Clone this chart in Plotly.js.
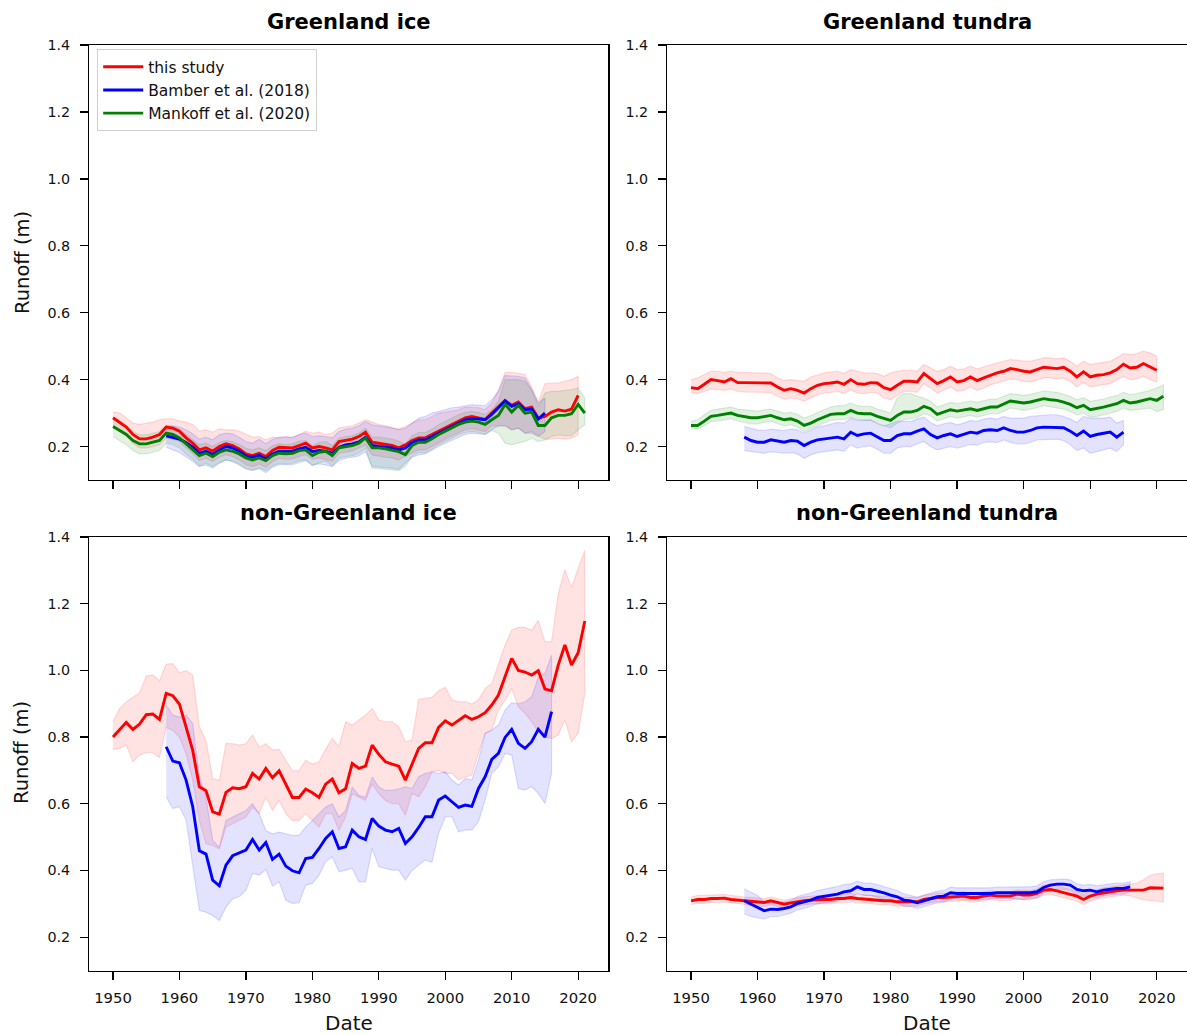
<!DOCTYPE html>
<html>
<head>
<meta charset="utf-8">
<script src="https://cdn.plot.ly/plotly-3.0.1.min.js"></script>
<style>html,body{margin:0;padding:0;background:#fff;}#chart{width:1187px;height:1035px;}</style>
</head>
<body>
<div id="chart"></div>
<script>
// ---------- years ----------
function yearRange(a, b) { var r = []; for (var y = a; y <= b; y++) r.push(y); return r; }
var yrsStudyGr = yearRange(1950, 2020);
var yrsStudyNonGr = yearRange(1950, 2021);
var yrsMankoff = yearRange(1950, 2021);
var yrsBamberGr = yearRange(1958, 2015);
var yrsBamberNonGr = yearRange(1958, 2016);

// ---------- Greenland ice ----------
var giStudy = [0.286,0.273,0.258,0.236,0.223,0.223,0.228,0.236,0.258,0.255,
0.246,0.226,0.210,0.190,0.196,0.186,0.200,0.208,0.203,0.193,
0.178,0.173,0.180,0.170,0.188,0.198,0.196,0.196,0.203,0.210,
0.196,0.200,0.196,0.190,0.215,0.218,0.222,0.230,0.243,0.213,
0.210,0.206,0.203,0.196,0.205,0.218,0.226,0.226,0.236,0.248,
0.258,0.268,0.278,0.286,0.290,0.286,0.281,0.300,0.318,0.338,
0.323,0.333,0.313,0.318,0.285,0.290,0.303,0.310,0.306,0.312,0.353];
var giStudyHi = [0.303,0.300,0.286,0.270,0.266,0.270,0.273,0.280,0.283,0.283,
0.276,0.273,0.266,0.246,0.250,0.243,0.253,0.250,0.250,0.246,
0.236,0.228,0.230,0.220,0.228,0.226,0.230,0.226,0.236,0.246,
0.240,0.243,0.236,0.240,0.256,0.260,0.262,0.270,0.280,0.273,
0.266,0.263,0.256,0.253,0.260,0.270,0.280,0.280,0.290,0.300,
0.303,0.306,0.310,0.318,0.318,0.316,0.310,0.330,0.368,0.422,
0.422,0.418,0.415,0.378,0.333,0.388,0.390,0.390,0.395,0.400,0.410];
var giStudyLo = [0.262,0.250,0.232,0.210,0.196,0.196,0.200,0.205,0.225,0.222,
0.215,0.196,0.180,0.158,0.165,0.155,0.168,0.176,0.170,0.160,
0.146,0.140,0.148,0.138,0.155,0.165,0.162,0.163,0.170,0.176,
0.162,0.166,0.162,0.156,0.180,0.183,0.187,0.195,0.205,0.175,
0.172,0.168,0.166,0.160,0.172,0.182,0.190,0.190,0.200,0.212,
0.222,0.232,0.242,0.250,0.254,0.250,0.245,0.262,0.262,0.262,
0.250,0.255,0.240,0.245,0.232,0.222,0.222,0.225,0.222,0.225,0.235];
var giBamber = [0.232,0.226,0.222,0.212,0.198,0.180,0.186,0.176,0.190,0.200,
0.196,0.186,0.172,0.168,0.174,0.163,0.178,0.186,0.186,0.186,
0.193,0.198,0.185,0.188,0.186,0.180,0.198,0.205,0.208,0.214,
0.228,0.203,0.200,0.198,0.196,0.190,0.196,0.212,0.220,0.220,
0.230,0.242,0.252,0.262,0.272,0.280,0.284,0.282,0.280,0.296,
0.316,0.336,0.320,0.328,0.310,0.312,0.282,0.300];
var giBamberHi = [0.262,0.262,0.258,0.250,0.238,0.222,0.228,0.220,0.235,0.240,
0.238,0.228,0.215,0.210,0.222,0.208,0.222,0.228,0.228,0.228,
0.236,0.240,0.230,0.232,0.230,0.226,0.245,0.252,0.255,0.262,
0.275,0.265,0.262,0.260,0.256,0.250,0.255,0.270,0.285,0.290,
0.300,0.305,0.310,0.316,0.318,0.322,0.325,0.324,0.322,0.340,
0.365,0.412,0.410,0.410,0.405,0.370,0.330,0.345];
var giBamberLo = [0.198,0.190,0.182,0.170,0.156,0.140,0.145,0.136,0.150,0.160,
0.155,0.145,0.132,0.128,0.134,0.122,0.138,0.146,0.146,0.146,
0.152,0.158,0.145,0.148,0.145,0.140,0.158,0.165,0.168,0.172,
0.185,0.140,0.138,0.136,0.135,0.132,0.150,0.168,0.175,0.178,
0.188,0.200,0.210,0.220,0.228,0.236,0.240,0.238,0.236,0.250,
0.262,0.262,0.250,0.255,0.240,0.240,0.230,0.245];
var giMankoff = [0.260,0.248,0.236,0.218,0.208,0.208,0.213,0.218,0.240,0.236,
0.226,0.208,0.193,0.173,0.180,0.170,0.183,0.190,0.186,0.178,
0.166,0.160,0.166,0.158,0.173,0.180,0.178,0.180,0.188,0.190,
0.173,0.183,0.186,0.173,0.196,0.200,0.203,0.210,0.226,0.196,
0.196,0.193,0.190,0.185,0.176,0.203,0.213,0.213,0.223,0.236,
0.246,0.256,0.266,0.273,0.276,0.273,0.266,0.280,0.293,0.326,
0.303,0.323,0.300,0.303,0.263,0.263,0.286,0.293,0.293,0.298,
0.326,0.300];
var giMankoffHi = [0.285,0.275,0.262,0.245,0.235,0.235,0.240,0.245,0.262,0.260,
0.252,0.236,0.222,0.205,0.210,0.200,0.212,0.218,0.214,0.206,
0.195,0.190,0.196,0.188,0.202,0.208,0.206,0.208,0.216,0.218,
0.202,0.212,0.215,0.203,0.225,0.230,0.232,0.240,0.255,0.228,
0.228,0.225,0.222,0.216,0.206,0.232,0.242,0.242,0.252,0.265,
0.275,0.285,0.295,0.302,0.305,0.302,0.296,0.310,0.335,0.400,
0.400,0.400,0.395,0.370,0.320,0.360,0.365,0.365,0.368,0.370,
0.375,0.345];
var giMankoffLo = [0.230,0.218,0.205,0.188,0.178,0.178,0.183,0.188,0.210,0.206,
0.196,0.178,0.163,0.142,0.150,0.140,0.152,0.160,0.156,0.148,
0.135,0.130,0.136,0.128,0.142,0.150,0.148,0.150,0.158,0.160,
0.142,0.152,0.156,0.142,0.165,0.170,0.172,0.180,0.195,0.135,
0.134,0.132,0.130,0.128,0.140,0.170,0.182,0.182,0.192,0.205,
0.215,0.225,0.235,0.242,0.245,0.242,0.236,0.248,0.240,0.210,
0.205,0.210,0.215,0.225,0.215,0.220,0.230,0.235,0.232,0.232,
0.250,0.265];

// ---------- Greenland tundra ----------
var gtStudy = [0.376,0.373,0.386,0.400,0.397,0.393,0.403,0.391,0.391,0.391,
0.390,0.390,0.390,0.378,0.368,0.373,0.368,0.360,0.373,0.383,
0.388,0.390,0.393,0.386,0.400,0.388,0.386,0.391,0.390,0.376,
0.370,0.383,0.395,0.395,0.393,0.418,0.403,0.388,0.397,0.408,
0.393,0.397,0.408,0.397,0.405,0.413,0.420,0.425,0.433,0.430,
0.425,0.423,0.430,0.437,0.435,0.433,0.437,0.425,0.408,0.423,
0.408,0.413,0.415,0.420,0.430,0.446,0.435,0.437,0.448,0.437,0.428];
var gtStudyHi = [0.400,0.405,0.415,0.425,0.425,0.422,0.425,0.422,0.422,0.420,
0.420,0.420,0.418,0.405,0.398,0.400,0.398,0.395,0.408,0.415,
0.420,0.423,0.425,0.418,0.430,0.425,0.420,0.420,0.418,0.410,
0.420,0.425,0.428,0.428,0.425,0.445,0.435,0.425,0.430,0.440,
0.430,0.432,0.440,0.432,0.438,0.445,0.450,0.455,0.460,0.458,
0.455,0.455,0.460,0.465,0.465,0.462,0.465,0.455,0.440,0.455,
0.445,0.448,0.450,0.455,0.465,0.478,0.475,0.478,0.485,0.480,0.470];
var gtStudyLo = [0.360,0.358,0.365,0.372,0.370,0.368,0.372,0.365,0.363,0.362,
0.362,0.362,0.360,0.350,0.342,0.345,0.342,0.335,0.345,0.355,
0.360,0.362,0.365,0.358,0.370,0.360,0.358,0.362,0.360,0.345,
0.340,0.352,0.365,0.365,0.362,0.388,0.375,0.360,0.368,0.378,
0.365,0.368,0.378,0.368,0.375,0.385,0.390,0.395,0.402,0.400,
0.395,0.393,0.400,0.405,0.405,0.402,0.405,0.395,0.378,0.392,
0.378,0.382,0.385,0.388,0.398,0.410,0.400,0.402,0.410,0.400,0.393];
var gtBamber = [0.228,0.218,0.213,0.213,0.220,0.216,0.213,0.218,0.216,0.203,
0.213,0.220,0.223,0.226,0.228,0.223,0.243,0.233,0.238,0.240,
0.230,0.218,0.218,0.233,0.238,0.238,0.246,0.253,0.236,0.226,
0.233,0.238,0.230,0.236,0.243,0.240,0.248,0.250,0.248,0.256,
0.248,0.243,0.243,0.248,0.256,0.258,0.258,0.258,0.256,0.246,
0.233,0.246,0.230,0.236,0.240,0.243,0.228,0.243];
var gtBamberHi = [0.260,0.255,0.250,0.248,0.252,0.250,0.248,0.252,0.250,0.240,
0.250,0.258,0.262,0.268,0.272,0.270,0.285,0.278,0.280,0.280,
0.268,0.262,0.268,0.275,0.275,0.275,0.282,0.288,0.272,0.262,
0.268,0.272,0.265,0.270,0.278,0.275,0.282,0.285,0.282,0.290,
0.285,0.285,0.285,0.290,0.292,0.295,0.295,0.295,0.290,0.282,
0.272,0.290,0.285,0.285,0.285,0.288,0.270,0.278];
var gtBamberLo = [0.188,0.185,0.182,0.180,0.185,0.182,0.180,0.182,0.178,0.165,
0.175,0.182,0.185,0.188,0.190,0.186,0.205,0.195,0.200,0.202,
0.192,0.180,0.180,0.196,0.200,0.200,0.208,0.215,0.200,0.190,
0.196,0.200,0.195,0.200,0.206,0.204,0.212,0.214,0.212,0.220,
0.212,0.208,0.208,0.212,0.220,0.222,0.222,0.222,0.218,0.205,
0.188,0.196,0.180,0.185,0.190,0.195,0.185,0.205];
var gtMankoff = [0.263,0.263,0.276,0.290,0.293,0.296,0.300,0.293,0.290,0.286,
0.286,0.290,0.293,0.286,0.280,0.283,0.276,0.263,0.270,0.280,
0.288,0.296,0.298,0.298,0.308,0.300,0.298,0.298,0.290,0.283,
0.278,0.293,0.303,0.303,0.308,0.320,0.313,0.296,0.303,0.310,
0.306,0.310,0.313,0.308,0.313,0.318,0.318,0.326,0.336,0.333,
0.330,0.333,0.338,0.343,0.340,0.338,0.333,0.326,0.316,0.323,
0.310,0.313,0.318,0.323,0.328,0.338,0.330,0.333,0.338,0.343,
0.338,0.350];
var gtMankoffHi = [0.275,0.280,0.295,0.308,0.312,0.314,0.318,0.312,0.310,0.306,
0.306,0.310,0.312,0.306,0.300,0.302,0.296,0.285,0.292,0.302,
0.310,0.318,0.322,0.322,0.330,0.322,0.320,0.320,0.312,0.305,
0.300,0.345,0.358,0.358,0.350,0.345,0.335,0.318,0.325,0.332,
0.328,0.332,0.336,0.332,0.336,0.342,0.342,0.350,0.358,0.356,
0.353,0.356,0.362,0.366,0.364,0.362,0.356,0.350,0.340,0.346,
0.335,0.338,0.342,0.348,0.352,0.362,0.355,0.358,0.362,0.368,
0.375,0.385];
var gtMankoffLo = [0.255,0.252,0.262,0.275,0.276,0.279,0.283,0.276,0.272,0.268,
0.268,0.272,0.275,0.268,0.262,0.265,0.258,0.245,0.252,0.262,
0.270,0.278,0.280,0.280,0.288,0.280,0.278,0.278,0.270,0.262,
0.256,0.270,0.280,0.282,0.286,0.298,0.292,0.276,0.282,0.290,
0.285,0.290,0.293,0.288,0.292,0.298,0.298,0.305,0.315,0.312,
0.308,0.312,0.316,0.322,0.318,0.316,0.312,0.305,0.295,0.300,
0.288,0.290,0.295,0.300,0.305,0.315,0.308,0.310,0.312,0.315,
0.305,0.310];

// ---------- non-Greenland ice ----------
var niStudy = [0.800,0.823,0.844,0.823,0.839,0.867,0.869,0.853,0.931,0.924,
0.899,0.830,0.760,0.651,0.639,0.576,0.569,0.634,0.648,0.645,
0.651,0.691,0.674,0.706,0.678,0.699,0.659,0.619,0.619,0.644,
0.633,0.619,0.659,0.674,0.633,0.645,0.721,0.706,0.713,0.776,
0.748,0.726,0.719,0.713,0.671,0.719,0.766,0.783,0.783,0.829,
0.849,0.836,0.851,0.864,0.853,0.861,0.873,0.896,0.926,0.980,
1.036,1.000,0.995,0.986,0.999,0.944,0.939,1.016,1.076,1.016,
1.053,1.148];
var niStudyHi = [0.847,0.886,0.906,0.920,0.933,0.983,0.986,0.969,1.019,1.020,
0.993,0.999,0.986,0.830,0.790,0.676,0.670,0.781,0.780,0.776,
0.780,0.806,0.769,0.780,0.761,0.763,0.731,0.699,0.699,0.731,
0.719,0.726,0.764,0.796,0.771,0.846,0.836,0.851,0.866,0.886,
0.851,0.846,0.846,0.831,0.786,0.791,0.913,0.916,0.919,0.939,
0.949,0.912,0.906,0.906,0.899,0.912,0.946,0.961,1.020,1.076,
1.121,1.129,1.129,1.120,1.150,1.086,1.086,1.230,1.302,1.249,
1.306,1.360];
var niStudyLo = [0.763,0.766,0.776,0.726,0.746,0.753,0.753,0.739,0.830,0.820,
0.800,0.750,0.670,0.550,0.480,0.475,0.465,0.530,0.540,0.550,
0.560,0.590,0.570,0.620,0.580,0.610,0.570,0.550,0.550,0.570,
0.550,0.530,0.570,0.570,0.520,0.560,0.630,0.620,0.610,0.660,
0.630,0.610,0.600,0.600,0.566,0.631,0.621,0.651,0.696,0.700,
0.691,0.691,0.671,0.680,0.686,0.751,0.811,0.821,0.881,0.911,
0.946,0.891,0.871,0.846,0.816,0.800,0.796,0.806,0.851,0.786,
0.811,0.930];
var niBamber = [0.771,0.728,0.723,0.671,0.591,0.459,0.449,0.371,0.354,0.416,
0.444,0.453,0.461,0.493,0.461,0.484,0.433,0.449,0.413,0.399,
0.393,0.436,0.439,0.466,0.496,0.516,0.466,0.471,0.521,0.501,
0.493,0.556,0.533,0.521,0.516,0.526,0.481,0.501,0.529,0.561,
0.561,0.611,0.623,0.606,0.589,0.596,0.592,0.646,0.681,0.733,
0.751,0.799,0.823,0.781,0.766,0.786,0.823,0.800,0.876];
var niBamberHi = [0.896,0.866,0.860,0.866,0.841,0.680,0.620,0.490,0.470,0.550,
0.560,0.570,0.580,0.600,0.570,0.520,0.510,0.515,0.510,0.505,
0.505,0.530,0.550,0.570,0.590,0.600,0.560,0.580,0.650,0.625,
0.620,0.680,0.650,0.640,0.640,0.645,0.651,0.646,0.681,0.691,
0.696,0.691,0.696,0.671,0.656,0.676,0.671,0.731,0.811,0.821,
0.836,0.881,0.903,0.900,0.906,0.920,0.980,0.991,1.046];
var niBamberLo = [0.621,0.586,0.591,0.551,0.411,0.280,0.275,0.265,0.250,0.290,
0.315,0.321,0.341,0.391,0.386,0.403,0.353,0.366,0.311,0.301,
0.303,0.356,0.361,0.386,0.426,0.441,0.396,0.401,0.406,0.366,
0.366,0.466,0.411,0.406,0.401,0.401,0.371,0.400,0.416,0.431,
0.425,0.511,0.561,0.561,0.516,0.521,0.521,0.546,0.611,0.691,
0.711,0.751,0.746,0.646,0.641,0.651,0.631,0.601,0.691];

// ---------- non-Greenland tundra ----------
var ntStudy = [0.309,0.313,0.313,0.316,0.316,0.317,0.313,0.311,0.309,0.308,
0.306,0.304,0.309,0.304,0.299,0.303,0.307,0.309,0.311,0.313,
0.313,0.313,0.316,0.316,0.319,0.316,0.314,0.314,0.311,0.309,
0.309,0.306,0.306,0.306,0.306,0.313,0.316,0.319,0.319,0.321,
0.321,0.323,0.319,0.319,0.323,0.326,0.323,0.323,0.323,0.329,
0.326,0.326,0.331,0.341,0.343,0.339,0.333,0.329,0.323,0.313,
0.323,0.329,0.333,0.336,0.339,0.341,0.341,0.339,0.341,0.348,
0.348,0.347];
var ntStudyHi = [0.320,0.325,0.325,0.327,0.327,0.328,0.325,0.322,0.320,0.319,
0.318,0.316,0.320,0.316,0.311,0.315,0.319,0.321,0.323,0.325,
0.325,0.326,0.328,0.328,0.331,0.328,0.327,0.327,0.324,0.322,
0.322,0.319,0.319,0.319,0.319,0.326,0.329,0.332,0.332,0.334,
0.334,0.336,0.332,0.332,0.336,0.339,0.336,0.336,0.336,0.342,
0.340,0.340,0.345,0.356,0.358,0.354,0.348,0.344,0.338,0.328,
0.338,0.344,0.348,0.351,0.354,0.356,0.358,0.362,0.372,0.385,
0.390,0.392];
var ntStudyLo = [0.298,0.301,0.301,0.304,0.304,0.305,0.301,0.299,0.297,0.296,
0.294,0.292,0.297,0.292,0.287,0.291,0.295,0.297,0.299,0.301,
0.301,0.300,0.303,0.303,0.306,0.303,0.301,0.301,0.298,0.296,
0.296,0.293,0.293,0.293,0.293,0.300,0.303,0.306,0.306,0.308,
0.308,0.310,0.306,0.306,0.310,0.313,0.310,0.310,0.310,0.316,
0.312,0.312,0.317,0.326,0.328,0.324,0.318,0.314,0.308,0.298,
0.308,0.314,0.318,0.321,0.324,0.326,0.324,0.318,0.312,0.312,
0.308,0.306];
var ntBamber = [0.309,0.299,0.291,0.279,0.284,0.283,0.286,0.291,0.301,0.306,
0.311,0.319,0.323,0.326,0.329,0.336,0.339,0.351,0.343,0.343,
0.339,0.333,0.326,0.321,0.311,0.309,0.303,0.309,0.316,0.321,
0.323,0.333,0.331,0.331,0.329,0.329,0.331,0.331,0.333,0.333,
0.333,0.331,0.331,0.333,0.336,0.349,0.356,0.359,0.359,0.356,
0.343,0.339,0.341,0.336,0.341,0.344,0.346,0.346,0.351];
var ntBamberHi = [0.345,0.335,0.325,0.305,0.305,0.305,0.305,0.310,0.322,0.328,
0.332,0.340,0.345,0.348,0.352,0.358,0.360,0.368,0.362,0.362,
0.358,0.352,0.345,0.340,0.330,0.326,0.320,0.326,0.333,0.338,
0.340,0.350,0.348,0.348,0.346,0.346,0.348,0.348,0.350,0.350,
0.350,0.349,0.349,0.351,0.354,0.366,0.372,0.374,0.374,0.372,
0.360,0.356,0.358,0.354,0.358,0.360,0.362,0.362,0.366];
var ntBamberLo = [0.270,0.262,0.258,0.255,0.262,0.262,0.266,0.272,0.282,0.288,
0.292,0.300,0.304,0.306,0.308,0.315,0.318,0.332,0.325,0.325,
0.320,0.314,0.307,0.302,0.293,0.292,0.286,0.292,0.298,0.303,
0.305,0.316,0.314,0.314,0.312,0.312,0.314,0.314,0.316,0.316,
0.316,0.313,0.313,0.315,0.318,0.332,0.340,0.343,0.343,0.340,
0.326,0.322,0.324,0.318,0.324,0.327,0.329,0.330,0.336];

// ---------- labels / styles ----------
var panelTitles = ['Greenland ice', 'Greenland tundra', 'non-Greenland ice', 'non-Greenland tundra'];
var seriesNames = ['this study', 'Bamber et al. (2018)', 'Mankoff et al. (2020)'];
var xTicks = [1950, 1960, 1970, 1980, 1990, 2000, 2010, 2020];
var yTicks = [0.2, 0.4, 0.6, 0.8, 1.0, 1.2, 1.4];
var COL = {red: [255, 0, 0], blue: [0, 0, 255], green: [0, 128, 0]};

function rgba(c, a) { return 'rgba(' + c[0] + ',' + c[1] + ',' + c[2] + ',' + a + ')'; }

var traces = [];
function band(years, lo, hi, col, xa, ya) {
  var xs = years.concat(years.slice().reverse());
  var ys = hi.concat(lo.slice().reverse());
  traces.push({x: xs, y: ys, xaxis: xa, yaxis: ya, type: 'scatter', mode: 'lines',
    fill: 'toself', fillcolor: rgba(col, 0.11), line: {color: rgba(col, 0.13), width: 1.2},
    hoverinfo: 'skip', showlegend: false});
}
function line(years, vals, col, xa, ya, name, legend) {
  traces.push({x: years, y: vals, xaxis: xa, yaxis: ya, type: 'scatter', mode: 'lines',
    line: {color: rgba(col, 1), width: 2.9}, name: name, showlegend: !!legend});
}

// Panel 1: Greenland ice
band(yrsStudyGr, giStudyLo, giStudyHi, COL.red, 'x', 'y');
band(yrsBamberGr, giBamberLo, giBamberHi, COL.blue, 'x', 'y');
band(yrsMankoff, giMankoffLo, giMankoffHi, COL.green, 'x', 'y');
line(yrsStudyGr, giStudy, COL.red, 'x', 'y', seriesNames[0], true);
line(yrsBamberGr, giBamber, COL.blue, 'x', 'y', seriesNames[1], true);
line(yrsMankoff, giMankoff, COL.green, 'x', 'y', seriesNames[2], true);
// Panel 2: Greenland tundra
band(yrsStudyGr, gtStudyLo, gtStudyHi, COL.red, 'x2', 'y2');
band(yrsBamberGr, gtBamberLo, gtBamberHi, COL.blue, 'x2', 'y2');
band(yrsMankoff, gtMankoffLo, gtMankoffHi, COL.green, 'x2', 'y2');
line(yrsStudyGr, gtStudy, COL.red, 'x2', 'y2', seriesNames[0]);
line(yrsBamberGr, gtBamber, COL.blue, 'x2', 'y2', seriesNames[1]);
line(yrsMankoff, gtMankoff, COL.green, 'x2', 'y2', seriesNames[2]);
// Panel 3: non-Greenland ice
band(yrsStudyNonGr, niStudyLo, niStudyHi, COL.red, 'x3', 'y3');
band(yrsBamberNonGr, niBamberLo, niBamberHi, COL.blue, 'x3', 'y3');
line(yrsStudyNonGr, niStudy, COL.red, 'x3', 'y3', seriesNames[0]);
line(yrsBamberNonGr, niBamber, COL.blue, 'x3', 'y3', seriesNames[1]);
// Panel 4: non-Greenland tundra
band(yrsStudyNonGr, ntStudyLo, ntStudyHi, COL.red, 'x4', 'y4');
band(yrsBamberNonGr, ntBamberLo, ntBamberHi, COL.blue, 'x4', 'y4');
line(yrsStudyNonGr, ntStudy, COL.red, 'x4', 'y4', seriesNames[0]);
line(yrsBamberNonGr, ntBamber, COL.blue, 'x4', 'y4', seriesNames[1]);

var W = 1187, H = 1035;
var FONT = 'DejaVu Sans, Liberation Sans, sans-serif';
var xL = [89.4 / W, 608.4 / W], xR = [667.4 / W, 1.0];
var yT = [1 - 480 / H, 1 - 45 / H], yB = [1 - 970.5 / H, 1 - 537 / H];

function xaxis(dom, anchor, labels) {
  return {domain: dom, anchor: anchor, range: [1946.45, 2024.55], tickvals: xTicks,
    showticklabels: labels, ticks: 'outside', ticklen: 8, tickwidth: 1.3, tickcolor: '#000',
    ticklabelstandoff: 5,
    showline: true, mirror: true, linecolor: '#000', linewidth: 1.4, showgrid: false, zeroline: false,
    tickfont: {family: FONT, size: 14.8, color: '#111'}, automargin: false, fixedrange: true};
}
function yaxis(dom, anchor) {
  return {domain: dom, anchor: anchor, range: [0.1, 1.4], tickvals: yTicks, tickformat: '.1f',
    ticks: 'outside', ticklen: 8, tickwidth: 1.3, tickcolor: '#000', ticklabelstandoff: 7,
    showline: true, mirror: true, linecolor: '#000', linewidth: 1.4, showgrid: false, zeroline: false,
    tickfont: {family: FONT, size: 14.3, color: '#111'}, automargin: false, fixedrange: true};
}

function ann(text, x, y, opts) {
  var a = {text: text, x: x, y: y, xref: 'paper', yref: 'paper', showarrow: false,
    xanchor: 'center', yanchor: 'middle', font: {family: FONT, size: 18, color: '#000'}};
  for (var k in opts) a[k] = opts[k];
  return a;
}
var cL = (xL[0] + xL[1]) / 2, cR = (xR[0] + xR[1]) / 2;
var TF = {family: FONT, size: 21, color: '#000'};
var LF = {family: FONT, size: 19.5, color: '#111'};
var annotations = [
  ann('<b>' + panelTitles[0] + '</b>', cL, 1 - 22 / H, {font: TF}),
  ann('<b>' + panelTitles[1] + '</b>', cR, 1 - 22 / H, {font: TF}),
  ann('<b>' + panelTitles[2] + '</b>', cL, 1 - 513 / H, {font: TF}),
  ann('<b>' + panelTitles[3] + '</b>', cR, 1 - 513 / H, {font: TF}),
  ann('Runoff (m)', 22 / W, 1 - 263 / H, {textangle: -90, font: LF}),
  ann('Runoff (m)', 22 / W, 1 - 753 / H, {textangle: -90, font: LF}),
  ann('Date', cL, 1 - 1023 / H, {font: {family: FONT, size: 20, color: '#111'}}),
  ann('Date', cR, 1 - 1023 / H, {font: {family: FONT, size: 20, color: '#111'}})
];

var layout = {
  width: W, height: H, margin: {l: 0, r: 0, t: 0, b: 0, pad: 0},
  paper_bgcolor: '#fff', plot_bgcolor: '#fff', font: {family: FONT, color: '#111'},
  xaxis: xaxis(xL, 'y', false), yaxis: yaxis(yT, 'x'),
  xaxis2: xaxis(xR, 'y2', false), yaxis2: yaxis(yT, 'x2'),
  xaxis3: xaxis(xL, 'y3', true), yaxis3: yaxis(yB, 'x3'),
  xaxis4: xaxis(xR, 'y4', true), yaxis4: yaxis(yB, 'x4'),
  showlegend: true,
  legend: {x: 97 / W, y: 1 - 49 / H, xanchor: 'left', yanchor: 'top', bgcolor: 'rgba(255,255,255,0.85)',
    bordercolor: '#d0d0d0', borderwidth: 1.2, font: {family: FONT, size: 15.5, color: '#111'},
    itemwidth: 40, tracegroupgap: 0},
  annotations: annotations, hovermode: false
};

Plotly.newPlot('chart', traces, layout, {staticPlot: true, displayModeBar: false});
</script>
</body>
</html>
